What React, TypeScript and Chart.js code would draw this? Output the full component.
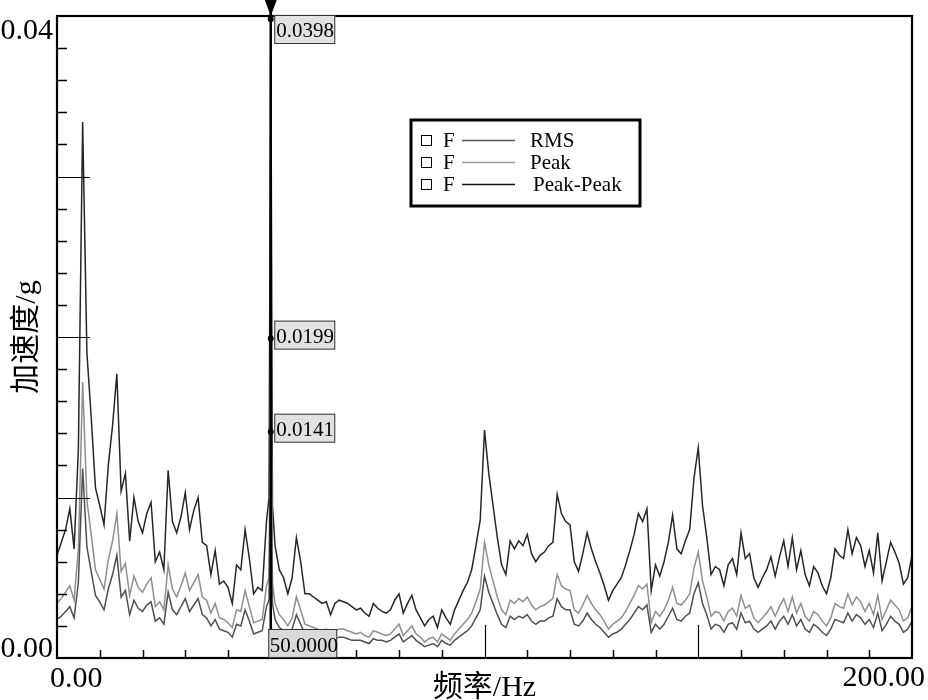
import { useEffect, useRef } from 'react';
import { Chart, registerables } from 'chart.js';

Chart.register(...registerables);

// Frequency axis (Hz), 1 Hz resolution, plus two extra points around the 50 Hz spike
const freqs: number[] = Array.from({ length: 201 }, (_, i) => i);
const spikeFreqs: number[] = [49.6, 50.4];

const seriesLabels = ['RMS', 'Peak', 'Peak-Peak'];
const xTickLabels = ['0.00', '200.00'];
const yTickLabels = ['0.00', '0.04'];
const xTitle = '频率/Hz';
const yTitle = '加速度/g';
const markerFreq = 50;

const rmsValues: number[] = [
  0.0024, 0.0026, 0.0029, 0.0032, 0.0025, 0.0047, 0.0118, 0.0069, 0.0054, 0.0039,
  0.0035, 0.0030, 0.0043, 0.0052, 0.0064, 0.0038, 0.0042, 0.0027, 0.0036, 0.0031,
  0.0029, 0.0033, 0.0035, 0.0023, 0.0025, 0.0021, 0.0041, 0.0030, 0.0027, 0.0032,
  0.0037, 0.0029, 0.0033, 0.0037, 0.0027, 0.0025, 0.0020, 0.0024, 0.0018, 0.0017,
  0.0016, 0.0013, 0.0021, 0.0020, 0.0030, 0.0023, 0.0015, 0.0016, 0.0017, 0.0032,
  0.0141, 0.0024, 0.0019, 0.0017, 0.0014, 0.0018, 0.0027, 0.0021, 0.0015, 0.0014,
  0.0013, 0.0013, 0.0012, 0.0013, 0.0010, 0.0012, 0.0013, 0.0013, 0.0012, 0.0011,
  0.0011, 0.0011, 0.0010, 0.0009, 0.0012, 0.0011, 0.0011, 0.0010, 0.0011, 0.0013,
  0.0015, 0.0010, 0.0012, 0.0014, 0.0011, 0.0009, 0.0007, 0.0008, 0.0009, 0.0007,
  0.0011, 0.0009, 0.0008, 0.0011, 0.0013, 0.0015, 0.0017, 0.0020, 0.0025, 0.0030,
  0.0051, 0.0041, 0.0034, 0.0027, 0.0021, 0.0019, 0.0026, 0.0024, 0.0026, 0.0025,
  0.0027, 0.0023, 0.0021, 0.0023, 0.0023, 0.0025, 0.0026, 0.0037, 0.0032, 0.0030,
  0.0030, 0.0021, 0.0020, 0.0023, 0.0028, 0.0024, 0.0021, 0.0019, 0.0016, 0.0013,
  0.0015, 0.0016, 0.0018, 0.0021, 0.0024, 0.0028, 0.0032, 0.0030, 0.0033, 0.0016,
  0.0021, 0.0018, 0.0021, 0.0026, 0.0031, 0.0024, 0.0023, 0.0026, 0.0028, 0.0040,
  0.0047, 0.0034, 0.0027, 0.0018, 0.0021, 0.0020, 0.0016, 0.0021, 0.0022, 0.0018,
  0.0028, 0.0022, 0.0023, 0.0018, 0.0016, 0.0018, 0.0020, 0.0023, 0.0018, 0.0023,
  0.0026, 0.0021, 0.0027, 0.0020, 0.0024, 0.0018, 0.0016, 0.0021, 0.0019, 0.0016,
  0.0014, 0.0018, 0.0024, 0.0023, 0.0022, 0.0028, 0.0023, 0.0027, 0.0025, 0.0021,
  0.0024, 0.0019, 0.0028, 0.0017, 0.0021, 0.0026, 0.0023, 0.0021, 0.0016, 0.0018,
  0.0023,
];
const rmsSpike: number[] = [0.0036, 0.0034];

const peakValues: number[] = [
  0.0034, 0.0037, 0.0041, 0.0045, 0.0036, 0.0068, 0.0172, 0.0098, 0.0077, 0.0055,
  0.0049, 0.0043, 0.0061, 0.0073, 0.0090, 0.0054, 0.0059, 0.0039, 0.0051, 0.0044,
  0.0041, 0.0046, 0.0050, 0.0032, 0.0035, 0.0030, 0.0058, 0.0043, 0.0038, 0.0045,
  0.0053, 0.0042, 0.0047, 0.0052, 0.0038, 0.0036, 0.0028, 0.0034, 0.0025, 0.0024,
  0.0022, 0.0019, 0.0030, 0.0029, 0.0042, 0.0032, 0.0022, 0.0023, 0.0024, 0.0045,
  0.0199, 0.0034, 0.0027, 0.0024, 0.0020, 0.0025, 0.0038, 0.0030, 0.0021, 0.0020,
  0.0019, 0.0018, 0.0017, 0.0018, 0.0014, 0.0017, 0.0018, 0.0018, 0.0017, 0.0016,
  0.0015, 0.0016, 0.0014, 0.0013, 0.0017, 0.0016, 0.0015, 0.0014, 0.0015, 0.0018,
  0.0021, 0.0014, 0.0017, 0.0020, 0.0015, 0.0013, 0.0010, 0.0012, 0.0013, 0.0010,
  0.0015, 0.0013, 0.0011, 0.0015, 0.0018, 0.0021, 0.0024, 0.0028, 0.0035, 0.0043,
  0.0072, 0.0058, 0.0048, 0.0038, 0.0030, 0.0027, 0.0036, 0.0034, 0.0037, 0.0035,
  0.0038, 0.0033, 0.0030, 0.0032, 0.0033, 0.0035, 0.0037, 0.0052, 0.0045, 0.0043,
  0.0042, 0.0030, 0.0028, 0.0033, 0.0039, 0.0034, 0.0030, 0.0027, 0.0023, 0.0018,
  0.0021, 0.0023, 0.0025, 0.0029, 0.0034, 0.0039, 0.0045, 0.0043, 0.0046, 0.0022,
  0.0029, 0.0026, 0.0030, 0.0036, 0.0044, 0.0034, 0.0033, 0.0036, 0.0040, 0.0056,
  0.0066, 0.0048, 0.0038, 0.0026, 0.0029, 0.0028, 0.0023, 0.0029, 0.0031, 0.0026,
  0.0039, 0.0031, 0.0033, 0.0025, 0.0022, 0.0025, 0.0028, 0.0032, 0.0026, 0.0032,
  0.0037, 0.0029, 0.0038, 0.0028, 0.0034, 0.0026, 0.0023, 0.0029, 0.0027, 0.0023,
  0.0020, 0.0025, 0.0034, 0.0032, 0.0031, 0.0040, 0.0033, 0.0038, 0.0035, 0.0029,
  0.0034, 0.0027, 0.0039, 0.0024, 0.0030, 0.0036, 0.0033, 0.0030, 0.0023, 0.0025,
  0.0032,
];
const peakSpike: number[] = [0.0050, 0.0047];

const ppValues: number[] = [
  0.0064, 0.0072, 0.0080, 0.0093, 0.0068, 0.0130, 0.0334, 0.0190, 0.0150, 0.0106,
  0.0095, 0.0083, 0.0120, 0.0145, 0.0177, 0.0104, 0.0115, 0.0073, 0.0100, 0.0085,
  0.0078, 0.0090, 0.0097, 0.0060, 0.0066, 0.0055, 0.0117, 0.0085, 0.0078, 0.0088,
  0.0103, 0.0080, 0.0092, 0.0100, 0.0072, 0.0070, 0.0052, 0.0067, 0.0046, 0.0048,
  0.0044, 0.0034, 0.0058, 0.0055, 0.0080, 0.0062, 0.0040, 0.0044, 0.0042, 0.0085,
  0.0398, 0.0070, 0.0055, 0.0050, 0.0040, 0.0050, 0.0075, 0.0060, 0.0040, 0.0040,
  0.0038, 0.0036, 0.0034, 0.0035, 0.0027, 0.0034, 0.0036, 0.0035, 0.0034, 0.0032,
  0.0030, 0.0031, 0.0028, 0.0026, 0.0034, 0.0031, 0.0029, 0.0028, 0.0030, 0.0036,
  0.0040, 0.0028, 0.0034, 0.0039, 0.0030, 0.0025, 0.0020, 0.0024, 0.0026, 0.0019,
  0.0030, 0.0025, 0.0021, 0.0030, 0.0036, 0.0042, 0.0047, 0.0055, 0.0070, 0.0086,
  0.0142, 0.0115, 0.0095, 0.0075, 0.0058, 0.0052, 0.0073, 0.0068, 0.0073, 0.0070,
  0.0077, 0.0065, 0.0060, 0.0064, 0.0066, 0.0070, 0.0072, 0.0102, 0.0090, 0.0085,
  0.0083, 0.0060, 0.0054, 0.0065, 0.0078, 0.0068, 0.0060, 0.0053, 0.0045, 0.0036,
  0.0042, 0.0046, 0.0050, 0.0058, 0.0067, 0.0077, 0.0090, 0.0085, 0.0093, 0.0042,
  0.0058, 0.0051, 0.0060, 0.0072, 0.0089, 0.0068, 0.0065, 0.0073, 0.0080, 0.0112,
  0.0131, 0.0095, 0.0075, 0.0052, 0.0057, 0.0055, 0.0045, 0.0058, 0.0062, 0.0052,
  0.0078, 0.0062, 0.0065, 0.0050, 0.0044, 0.0050, 0.0055, 0.0063, 0.0051, 0.0063,
  0.0073, 0.0057, 0.0075, 0.0055, 0.0067, 0.0052, 0.0045, 0.0057, 0.0053, 0.0045,
  0.0040, 0.0050, 0.0068, 0.0064, 0.0062, 0.0080, 0.0065, 0.0075, 0.0070, 0.0057,
  0.0067, 0.0053, 0.0078, 0.0048, 0.0060, 0.0072, 0.0066, 0.0059, 0.0046, 0.0050,
  0.0064,
];
const ppSpike: number[] = [0.0100, 0.0095];

const seriesColors = ['#4f4f4f', '#8f8f8f', '#262626'];
const legendLineColors = ['#555555', '#9a9a9a', '#111111'];

function toPoints(vals: number[], extra: number[]) {
  const pts = freqs.map((f, i) => ({ x: f, y: vals[i] }));
  spikeFreqs.forEach((f, i) => pts.push({ x: f, y: extra[i] }));
  pts.sort((a, b) => a.x - b.x);
  return pts;
}

const SERIF = '"Liberation Serif", "Times New Roman", "Noto Sans CJK SC", serif';

const overlayPlugin = {
  id: 'overlay',
  afterDraw(chart: any) {
    const { ctx, chartArea: a, scales } = chart;
    const xs = scales.x;
    const ys = scales.y;
    ctx.save();

    // y ticks (inward)
    ctx.strokeStyle = '#000';
    for (let k = 1; k < 20; k++) {
      const y = Math.round(ys.getPixelForValue(k * 0.002)) + 0.5;
      const long = k % 5 === 0;
      ctx.lineWidth = long ? 1 : 1.5;
      ctx.beginPath();
      ctx.moveTo(a.left, y);
      ctx.lineTo(a.left + (long ? 33 : 10), y);
      ctx.stroke();
    }
    // x ticks (inward)
    for (let k = 1; k < 20; k++) {
      const x = Math.round(xs.getPixelForValue(k * 10)) + 0.5;
      const long = k % 5 === 0;
      ctx.lineWidth = long ? 1.2 : 1.5;
      ctx.beginPath();
      ctx.moveTo(x, a.bottom);
      ctx.lineTo(x, a.bottom - (long ? 33 : 8));
      ctx.stroke();
    }

    // frame
    ctx.lineWidth = 2.2;
    ctx.strokeRect(a.left, a.top, a.right - a.left, a.bottom - a.top);

    // tick labels
    ctx.fillStyle = '#000';
    ctx.font = '30px ' + SERIF;
    ctx.textBaseline = 'alphabetic';
    ctx.textAlign = 'right';
    ctx.fillText(yTickLabels[1], a.left - 4, ys.getPixelForValue(0.04) + 22.5);
    ctx.fillText(yTickLabels[0], a.left - 4, ys.getPixelForValue(0) - 1);
    ctx.textAlign = 'left';
    ctx.fillText(xTickLabels[0], xs.getPixelForValue(0) - 7, a.bottom + 29);
    ctx.textAlign = 'right';
    ctx.fillText(xTickLabels[1], xs.getPixelForValue(200) + 13, a.bottom + 28);

    // axis titles
    ctx.textAlign = 'center';
    ctx.fillText(xTitle, (a.left + a.right) / 2, a.bottom + 38);
    ctx.save();
    ctx.translate(27, (a.top + a.bottom) / 2);
    ctx.rotate(-Math.PI / 2);
    ctx.textBaseline = 'middle';
    ctx.fillText(yTitle, 0, 0);
    ctx.restore();

    // marker line
    const mx = xs.getPixelForValue(markerFreq);
    ctx.strokeStyle = '#000';
    ctx.lineWidth = 2.5;
    ctx.beginPath();
    ctx.moveTo(mx, 0);
    ctx.lineTo(mx, a.bottom);
    ctx.stroke();
    ctx.beginPath();
    ctx.moveTo(mx - 6, 0);
    ctx.lineTo(mx + 6, 0);
    ctx.lineTo(mx, a.top);
    ctx.closePath();
    ctx.fill();

    // marker readouts
    const idx = freqs.indexOf(markerFreq);
    const readVals = [ppValues[idx], peakValues[idx], rmsValues[idx]];
    ctx.font = '21px ' + SERIF;
    ctx.textAlign = 'left';
    ctx.textBaseline = 'alphabetic';
    readVals.forEach((v) => {
      const y = ys.getPixelForValue(v);
      ctx.fillStyle = '#000';
      ctx.beginPath();
      ctx.arc(mx, y, 3, 0, Math.PI * 2);
      ctx.fill();
      const bx = mx + 3.5;
      const by = Math.max(y - 18, 15);
      ctx.fillStyle = '#e2e2e2';
      ctx.fillRect(bx, by, 61, 29);
      ctx.strokeStyle = '#333';
      ctx.lineWidth = 1;
      ctx.strokeRect(bx + 0.5, by + 0.5, 60, 28);
      ctx.fillStyle = '#000';
      ctx.fillText(v.toFixed(4), bx + 2, by + 22);
    });
    // frequency readout
    const fbx = mx - 2.5;
    const fby = a.bottom - 29;
    ctx.fillStyle = '#d9d9d9';
    ctx.fillRect(fbx, fby, 69, 29);
    ctx.strokeStyle = '#333';
    ctx.lineWidth = 1;
    ctx.strokeRect(fbx + 0.5, fby + 0.5, 68, 28);
    ctx.fillStyle = '#000';
    ctx.fillText(markerFreq.toFixed(4), fbx + 1.5, a.bottom - 6);

    // legend
    const lx = 411, ly = 120, lw = 229, lh = 86;
    ctx.fillStyle = '#fff';
    ctx.fillRect(lx, ly, lw, lh);
    ctx.strokeStyle = '#000';
    ctx.lineWidth = 3;
    ctx.strokeRect(lx, ly, lw, lh);
    ctx.font = '21px ' + SERIF;
    seriesLabels.forEach((label, i) => {
      const base = 147 + i * 22;
      ctx.strokeStyle = '#000';
      ctx.lineWidth = 1;
      ctx.strokeRect(421.5, base - 11.5, 10, 10);
      ctx.fillStyle = '#000';
      ctx.fillText('F', 443, base);
      ctx.strokeStyle = legendLineColors[i];
      ctx.lineWidth = 1.5;
      ctx.beginPath();
      ctx.moveTo(462, base - 6.5);
      ctx.lineTo(515, base - 6.5);
      ctx.stroke();
      ctx.fillStyle = '#000';
      ctx.fillText(label, i === 2 ? 533 : 530, base);
    });

    ctx.restore();
  },
};

export default function App() {
  const canvasRef = useRef<HTMLCanvasElement | null>(null);

  useEffect(() => {
    if (!canvasRef.current) return;
    const chart = new Chart(canvasRef.current, {
      type: 'line',
      data: {
        datasets: [
          {
            label: seriesLabels[0],
            data: toPoints(rmsValues, rmsSpike),
            borderColor: seriesColors[0],
            borderWidth: 1.5,
            pointRadius: 0,
            fill: false,
            tension: 0,
          },
          {
            label: seriesLabels[1],
            data: toPoints(peakValues, peakSpike),
            borderColor: seriesColors[1],
            borderWidth: 1.5,
            pointRadius: 0,
            fill: false,
            tension: 0,
          },
          {
            label: seriesLabels[2],
            data: toPoints(ppValues, ppSpike),
            borderColor: seriesColors[2],
            borderWidth: 1.5,
            pointRadius: 0,
            fill: false,
            tension: 0,
          },
        ],
      },
      options: {
        animation: false,
        responsive: false,
        maintainAspectRatio: false,
        layout: { padding: { left: 57, top: 16, right: 16, bottom: 42 } },
        plugins: { legend: { display: false }, tooltip: { enabled: false } },
        scales: {
          x: { type: 'linear', min: 0, max: 200, display: false },
          y: { type: 'linear', min: 0, max: 0.04, display: false },
        },
      },
      plugins: [overlayPlugin],
    });
    return () => chart.destroy();
  }, []);

  return (
    <div style={{ position: 'absolute', left: 0, top: 0, width: 928, height: 700, background: '#fff' }}>
      <canvas ref={canvasRef} width={928} height={700} style={{ width: 928, height: 700, display: 'block' }} />
    </div>
  );
}
